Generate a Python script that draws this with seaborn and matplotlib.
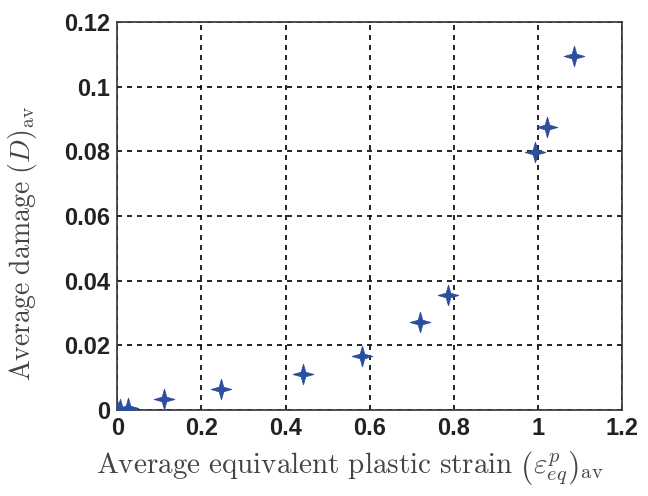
import matplotlib
matplotlib.use('Agg')
import matplotlib.pyplot as plt
from matplotlib.path import Path
import seaborn as sns
import pandas as pd

# Data
strain = [0.0, 0.007, 0.025, 0.112, 0.247, 0.442, 0.582, 0.719, 0.787, 0.992, 1.021, 1.085]
damage = [0.0, 0.0003, 0.0008, 0.0035, 0.0065, 0.0112, 0.0166, 0.0271, 0.0356, 0.0798, 0.0875, 0.1093]

x_ticks = [0, 0.2, 0.4, 0.6, 0.8, 1.0, 1.2]
x_tick_labels = ['0', '0.2', '0.4', '0.6', '0.8', '1', '1.2']
y_ticks = [0, 0.02, 0.04, 0.06, 0.08, 0.1, 0.12]
y_tick_labels = ['0', '0.02', '0.04', '0.06', '0.08', '0.1', '0.12']

df = pd.DataFrame({'strain': strain, 'damage': damage})

# thin four-point star, like the reference markers
r = 0.22
star = Path([(0, 1), (r, r), (1, 0), (r, -r), (0, -1), (-r, -r), (-1, 0), (-r, r), (0, 1)],
            [Path.MOVETO] + [Path.LINETO] * 7 + [Path.CLOSEPOLY])

sns.set_style('white')
plt.rcParams['font.family'] = ['Liberation Sans', 'DejaVu Sans']
plt.rcParams['mathtext.fontset'] = 'cm'

fig = plt.figure(figsize=(6.48, 4.96), dpi=100)
ax = fig.add_axes([0.181, 0.173, 0.779, 0.783])

sns.scatterplot(data=df, x='strain', y='damage', ax=ax,
                marker=star, s=220, color='#2b4f9e',
                edgecolor='#2b4f9e', linewidth=0.6, zorder=3)

ax.set_xlim(0, 1.2)
ax.set_ylim(0, 0.12)
ax.set_xticks(x_ticks)
ax.set_xticklabels(x_tick_labels)
ax.set_yticks(y_ticks)
ax.set_yticklabels(y_tick_labels)
ax.tick_params(labelsize=17, length=0, pad=5)
for lab in ax.get_xticklabels() + ax.get_yticklabels():
    lab.set_fontweight('bold')
    lab.set_color('#222222')

ax.grid(True, color='black', linestyle=(0, (3, 3)), linewidth=1.2)
for sp in ax.spines.values():
    sp.set_visible(True)
    sp.set_color('#333333')
    sp.set_linewidth(1.2)

ax.set_xlabel(r'$\mathrm{Average\ equivalent\ plastic\ strain}\ \left(\varepsilon^{p}_{eq}\right)_{\mathrm{av}}$',
              fontsize=21, color='#444444')
ax.set_ylabel(r'$\mathrm{Average\ damage}\ (D)_{\mathrm{av}}$',
              fontsize=20, color='#444444')
ax.yaxis.set_label_coords(-0.155, 0.43)
ax.xaxis.set_label_coords(0.46, -0.1)
ax.xaxis.label.set_va('top')

fig.savefig('out.png', dpi=100)
